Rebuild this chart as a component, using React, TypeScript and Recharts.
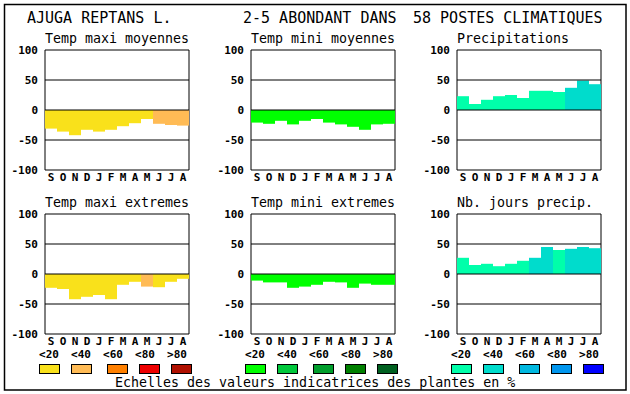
import { BarChart, Bar, XAxis, YAxis, Cell, ReferenceLine, ReferenceArea } from "recharts";

const months = ["S", "O", "N", "D", "J", "F", "M", "A", "M", "J", "J", "A"];
const yTicks = [-100, -50, 0, 50, 100];
const scaleLabels = ["<20", "<40", "<60", "<80", ">80"];

// values (temperatures drawn downward)
const maxiMoyennes = [-31, -36, -42, -33, -36, -33, -27, -22, -15, -23, -25, -26];
const maxiMoyClass = [0, 0, 0, 0, 0, 0, 0, 0, 0, 1, 1, 1];
const miniMoyennes = [-21, -23, -18, -24, -18, -15, -21, -24, -28, -33, -24, -23];
const miniMoyClass = [0, 0, 0, 0, 0, 0, 0, 0, 0, 0, 0, 0];
const precipitations = [23, 10, 17, 23, 25, 20, 32, 32, 30, 37, 49, 43];
const precipClass = [0, 0, 0, 0, 0, 0, 0, 0, 0, 1, 1, 1];
const maxiExtremes = [-23, -25, -42, -38, -35, -42, -18, -13, -21, -22, -13, -8];
const maxiExtClass = [0, 0, 0, 0, 0, 0, 0, 0, 1, 0, 0, 0];
const miniExtremes = [-11, -14, -14, -23, -21, -18, -13, -14, -23, -16, -18, -18];
const miniExtClass = [0, 0, 0, 0, 0, 0, 0, 0, 0, 0, 0, 0];
const joursPrecip = [27, 15, 17, 13, 17, 22, 27, 45, 40, 42, 45, 43];
const joursClass = [0, 0, 0, 0, 0, 0, 1, 1, 0, 1, 1, 1];

const yellows = ["#f9e11b", "#ffbb55", "#ff8000", "#ee0000", "#b01000"];
const greens = ["#00ff00", "#00c83c", "#009e2c", "#008000", "#006020"];
const blues = ["#00ffaa", "#00dccc", "#00b8e0", "#0096ee", "#0000ff"];

const MONO = "'DejaVu Sans Mono', monospace";

function MonthTick(props: any) {
  const { x, y, payload } = props;
  return (
    <text x={x} y={y + 7} textAnchor="middle" dominantBaseline="central"
      fontFamily={MONO} fontWeight="bold" fontSize={11} fill="#000">
      {months[payload.value]}
    </text>
  );
}

function ValueTick(props: any) {
  const { x, y, payload } = props;
  return (
    <text x={x} y={y} textAnchor="end" dominantBaseline="central"
      fontFamily={MONO} fontWeight="bold" fontSize={11} fill="#000">
      {payload.value}
    </text>
  );
}

interface PanelProps {
  left: number;
  top: number;
  values: number[];
  classes: number[];
  palette: string[];
}

function Panel({ left, top, values, classes, palette }: PanelProps) {
  const data = values.map((v, i) => ({ i, v, c: classes[i] }));
  return (
    <div style={{ position: "absolute", left: left - 45, top: top - 10 }}>
      <BarChart width={194} height={150} data={data}
        margin={{ top: 10, right: 5, bottom: 0, left: 0 }}
        barCategoryGap={0} barGap={0}>
        <XAxis dataKey="i" height={20} axisLine={false} tickLine={false}
          tickSize={0} tickMargin={0} interval={0} tick={MonthTick} />
        <YAxis width={45} type="number" domain={[-100, 100]} ticks={yTicks}
          axisLine={false} tickLine={false} tickSize={0} tickMargin={7}
          interval={0} tick={ValueTick} allowDataOverflow />
        <Bar dataKey="v" isAnimationActive={false}>
          {data.map((d) => (
            <Cell key={d.i} fill={palette[d.c]} />
          ))}
        </Bar>
        <ReferenceLine y={50} stroke="#000" />
        <ReferenceLine y={0} stroke="#000" />
        <ReferenceLine y={-50} stroke="#000" />
        <ReferenceArea y1={-100} y2={100} fill="none" fillOpacity={0} stroke="#000" strokeOpacity={1} />
      </BarChart>
    </div>
  );
}

const panelLefts = [45, 251, 457];
const rowTops = [50, 214];

export default function App() {
  const titles = [
    ["Temp maxi moyennes", "Temp mini moyennes", "Precipitations"],
    ["Temp maxi extremes", "Temp mini extremes", "Nb. jours precip."],
  ];
  const palettes = [yellows, greens, blues];
  const boxOffsets = [0, 32, 68, 100, 132];
  return (
    <div style={{ position: "absolute", left: 0, top: 0, width: 630, height: 394, background: "#fff" }}>
      <Panel left={45} top={50} values={maxiMoyennes} classes={maxiMoyClass} palette={yellows} />
      <Panel left={251} top={50} values={miniMoyennes} classes={miniMoyClass} palette={greens} />
      <Panel left={457} top={50} values={precipitations} classes={precipClass} palette={blues} />
      <Panel left={45} top={214} values={maxiExtremes} classes={maxiExtClass} palette={yellows} />
      <Panel left={251} top={214} values={miniExtremes} classes={miniExtClass} palette={greens} />
      <Panel left={457} top={214} values={joursPrecip} classes={joursClass} palette={blues} />
      <svg width={630} height={394} style={{ position: "absolute", left: 0, top: 0, pointerEvents: "none" }}>
        <rect x={4.5} y={4.5} width={621.5} height={385.5} fill="none" stroke="#000" strokeWidth={1.5} />
        <g fontFamily={MONO} fontSize={15} fill="#000">
          <text x={27} y={23}>AJUGA REPTANS L.</text>
          <text x={243} y={23}>2-5 ABONDANT DANS</text>
          <text x={413} y={23}>58 POSTES CLIMATIQUES</text>
        </g>
        <g fontFamily={MONO} fontSize={13.3} fill="#000">
          {titles.map((row, r) =>
            row.map((t, c) => (
              <text key={t} x={panelLefts[c]} y={rowTops[r] - 7}>{t}</text>
            ))
          )}
          <text x={115} y={387}>Echelles des valeurs indicatrices des plantes en %</text>
        </g>
        {palettes.map((pal, p) => (
          <g key={p}>
            {pal.map((col, k) => (
              <g key={col}>
                <text x={49 + p * 206 + k * 32} y={354} textAnchor="middle" dominantBaseline="central"
                  fontFamily={MONO} fontWeight="bold" fontSize={11} fill="#000">
                  {scaleLabels[k]}
                </text>
                <rect x={39.5 + p * 206 + boxOffsets[k]} y={364.5} width={20} height={9}
                  fill={col} stroke="#000" strokeWidth={1} />
              </g>
            ))}
          </g>
        ))}
      </svg>
    </div>
  );
}
